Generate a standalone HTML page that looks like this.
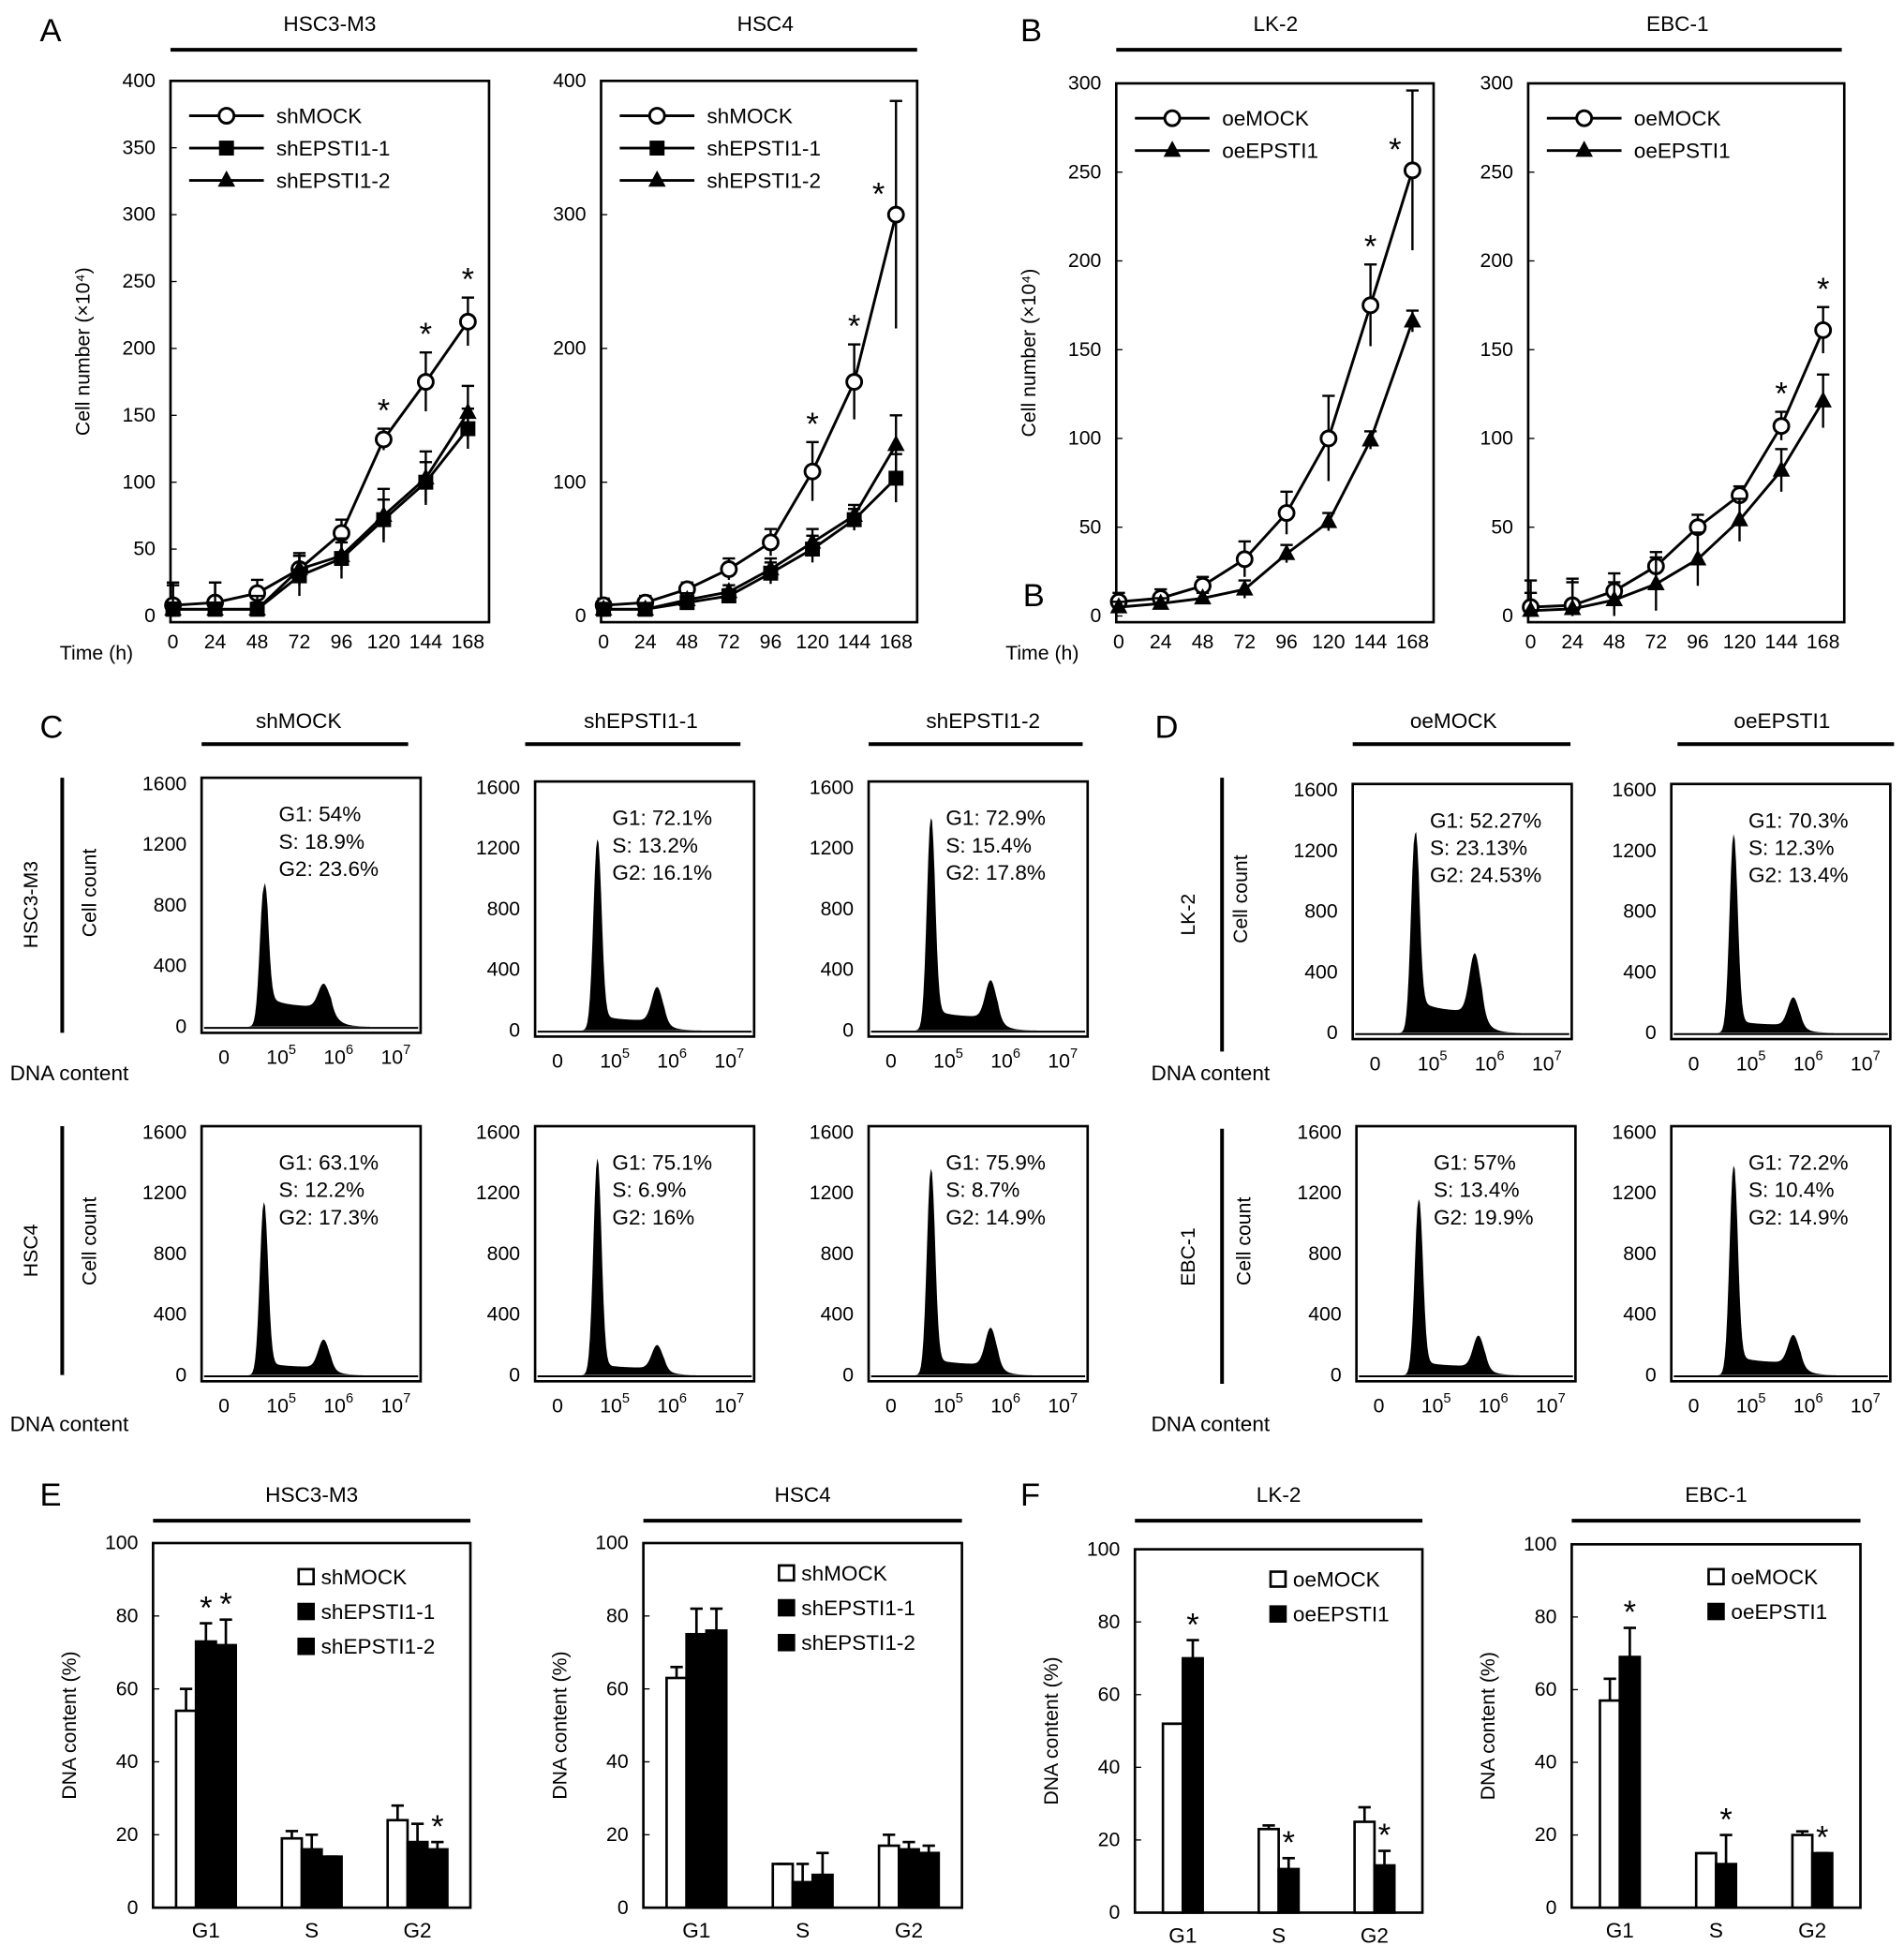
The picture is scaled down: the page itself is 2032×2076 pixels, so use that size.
<!DOCTYPE html>
<html><head><meta charset="utf-8"><style>
html,body{margin:0;padding:0;background:#fff}
svg{display:block;font-family:"Liberation Sans",Arial,sans-serif}
</style></head><body>
<svg id="fig" width="2032" height="2076" viewBox="0 0 1530 1563" preserveAspectRatio="none" xmlns="http://www.w3.org/2000/svg">
<rect width="1530" height="1563" fill="#fff"/>
<g font-size="26"><text x="32" y="33">A</text><text x="820" y="33">B</text><text x="32" y="593">C</text><text x="928" y="593">D</text><text x="32" y="1210">E</text><text x="820" y="1210">F</text><text x="822" y="487">B</text></g>
</svg>
<script>
const timeCats=[0,24,48,72,96,120,144,168];
const a1Mock=[8,10,17,35,62,132,175,220], a1MockErr=[15,15,10,12,10,8,22,18];
const a1Sh1=[5,5,5,30,43,72,100,140], a1Sh1Err=[20,20,10,15,15,15,15,15];
const a1Sh2=[5,5,5,35,45,75,103,152], a1Sh2Err=[5,5,5,10,10,20,20,20];
const a2Mock=[8,10,20,35,55,108,175,300], a2MockErr=[5,5,5,8,10,22,28,85];
const a2Sh1=[5,5,10,15,32,50,72,103], a2Sh1Err=[3,3,3,5,8,10,8,18];
const a2Sh2=[5,5,12,18,35,55,75,128], a2Sh2Err=[3,3,5,5,8,10,8,22];
const b1Mock=[8,10,17,32,58,100,175,251], b1MockErr=[5,5,5,10,12,24,23,45];
const b1Oe=[5,7,10,15,35,53,99,166], b1OeErr=[3,3,3,5,5,5,5,6];
const b2Mock=[5,6,14,28,50,68,107,161], b2MockErr=[15,15,10,8,7,5,8,13];
const b2Oe=[3,4,9,18,32,54,82,121], b2OeErr=[10,15,10,15,15,12,12,15];
const flowG1=[920,1260,1400,1310,1310,1140,1430,1360,1160,1380];
const flowS=[220,110,150,240,90,90,80,120,100,140];
const flowG2=[150,220,240,380,180,180,150,240,200,180];
const flowText=[["G1: 54%","S:  18.9%","G2: 23.6%"],["G1: 72.1%","S:  13.2%","G2: 16.1%"],["G1: 72.9%","S:  15.4%","G2: 17.8%"],["G1: 52.27%","S:  23.13%","G2: 24.53%"],["G1: 70.3%","S:  12.3%","G2: 13.4%"],["G1: 63.1%","S:  12.2%","G2: 17.3%"],["G1: 75.1%","S:  6.9%","G2: 16%"],["G1: 75.9%","S:  8.7%","G2: 14.9%"],["G1: 57%","S:  13.4%","G2: 19.9%"],["G1: 72.2%","S:  10.4%","G2: 14.9%"]];
const phaseCats=["G1","S","G2"];
const e1Mock=[54,19,24],e1MockErr=[6,2,4],e1Sh1=[73,16,18],e1Sh1Err=[5,4,5],e1Sh2=[72,14,16],e1Sh2Err=[7,0,2];
const e2Mock=[63,12,17],e2MockErr=[3,0,3],e2Sh1=[75,7,16],e2Sh1Err=[7,5,2],e2Sh2=[76,9,15],e2Sh2Err=[6,6,2];
const f1Mock=[52,23,25],f1MockErr=[0,1,4],f1Oe=[70,12,13],f1OeErr=[5,3,4];
const f2Mock=[57,15,20],f2MockErr=[6,0,1],f2Oe=[69,12,15],f2OeErr=[8,8,0];

const svg=document.getElementById('fig');const NS='http://www.w3.org/2000/svg';
function mk(tag,at,parent){const e=document.createElementNS(NS,tag);for(const k in at)e.setAttribute(k,at[k]);(parent||svg).appendChild(e);return e;}
function txt(x,y,s,size,anchor,parent){const t=mk('text',{x:x,y:y,'font-size':size||16,'text-anchor':anchor||'middle'},parent);t.textContent=s;return t;}
function hline(x1,x2,y,w){mk('line',{x1:x1,x2:x2,y1:y,y2:y,stroke:'#000','stroke-width':w||3});}
function vline(x,y1,y2,w){mk('line',{x1:x,x2:x,y1:y1,y2:y2,stroke:'#000','stroke-width':w||3});}
hline(137,737,40);txt(265,25,'HSC3-M3',17);txt(615,25,'HSC4',17);
hline(897,1480,40);txt(1025,25,'LK-2',17);txt(1348,25,'EBC-1',17);

function marker(g,kind,x,y){
 if(kind==='o')mk('circle',{cx:x,cy:y,r:6,fill:'#fff',stroke:'#000','stroke-width':2.2},g);
 else if(kind==='s')mk('rect',{x:x-6,y:y-6,width:12,height:12,fill:'#000'},g);
 else mk('polygon',{points:`${x},${y-8} ${x-7},${y+5} ${x+7},${y+5}`,fill:'#000'},g);
}
function lineChart(name,bx,by,bw,bh,ymax,ystep,series,legend,stars,showTime,ylab){
 const g=mk('g',{});
 
 
 const x0=bx+2,x1=bx+bw-17,y0=by+bh-5,y1=by;
 const X=t=>x0+(t/168)*(x1-x0), Y=v=>y0-(v/ymax)*(y0-y1);
 mk('rect',{x:bx,y:by,width:bw,height:bh,fill:'none',stroke:'#000','stroke-width':2},g);
 for(let v=0;v<=ymax;v+=ystep){txt(bx-12,Y(v)+5,String(v),16,'end',g);mk('line',{x1:bx,x2:bx+5,y1:Y(v),y2:Y(v),stroke:'#000'},g);}
 timeCats.forEach(t=>txt(X(t),by+bh+21,String(t),16,'middle',g));
 if(showTime)txt(bx-30,by+bh+30,'Time (h)',16,'end',g);
 if(ylab){const t=txt(0,0,'Cell number (×10⁴)',16,'middle',g);t.setAttribute('transform',`translate(${bx-65},${by+bh/2}) rotate(-90)`);}
 series.forEach(s=>{
  const gs=mk('g',{},g);
  
  
  mk('polyline',{points:s.v.map((v,i)=>X(timeCats[i])+','+Y(v)).join(' '),fill:'none',stroke:'#000','stroke-width':2.2},gs);
  s.v.forEach((v,i)=>{const x=X(timeCats[i]);mk('line',{x1:x,x2:x,y1:Y(v+s.e[i]),y2:Y(Math.max(0,v-s.e[i])),stroke:'#000','stroke-width':1.8},gs);
   mk('line',{x1:x-5,x2:x+5,y1:Y(v+s.e[i]),y2:Y(v+s.e[i]),stroke:'#000','stroke-width':1.8},gs);
   marker(gs,s.m,x,Y(v));});
 });
 stars.forEach(i=>{const s=series[0];let sy=Y(s.v[i]+s.e[i])-6,sx=X(timeCats[i]);if(sy<by+30){sy=Y(s.v[i])-8;sx-=14;}txt(sx,sy,'*',26,'middle',g);});
 legend.forEach((l,i)=>{const ly=by+28+i*26;const lg=mk('g',{},g);
  
  
  mk('line',{x1:bx+15,x2:bx+75,y1:ly,y2:ly,stroke:'#000','stroke-width':2.2},lg);marker(lg,l[1],bx+45,ly);txt(bx+85,ly+6,l[0],17,'start',lg);});
}
lineChart('chart-a-hsc3m3',137,65,256,435,400,50,[{name:'shMOCK',v:a1Mock,e:a1MockErr,m:'o'},{name:'shEPSTI1-1',v:a1Sh1,e:a1Sh1Err,m:'s'},{name:'shEPSTI1-2',v:a1Sh2,e:a1Sh2Err,m:'t'}],[['shMOCK','o'],['shEPSTI1-1','s'],['shEPSTI1-2','t']],[5,6,7],true,true);
lineChart('chart-a-hsc4',483,65,254,435,400,100,[{name:'shMOCK',v:a2Mock,e:a2MockErr,m:'o'},{name:'shEPSTI1-1',v:a2Sh1,e:a2Sh1Err,m:'s'},{name:'shEPSTI1-2',v:a2Sh2,e:a2Sh2Err,m:'t'}],[['shMOCK','o'],['shEPSTI1-1','s'],['shEPSTI1-2','t']],[5,6,7],false,false);
lineChart('chart-b-lk2',897,67,255,433,300,50,[{name:'oeMOCK',v:b1Mock,e:b1MockErr,m:'o'},{name:'oeEPSTI1',v:b1Oe,e:b1OeErr,m:'t'}],[['oeMOCK','o'],['oeEPSTI1','t']],[6,7],true,true);
lineChart('chart-b-ebc1',1228,67,254,433,300,50,[{name:'oeMOCK',v:b2Mock,e:b2MockErr,m:'o'},{name:'oeEPSTI1',v:b2Oe,e:b2OeErr,m:'t'}],[['oeMOCK','o'],['oeEPSTI1','t']],[6,7],false,false);

const flowBoxes=[[162,625],[430,628],[698,628],[1087,630],[1343,630],[162,905],[430,905],[698,905],[1090,905],[1343,905]];
hline(162,328,598);txt(240,585,'shMOCK',17);hline(422,595,598);txt(515,585,'shEPSTI1-1',17);hline(698,870,598);txt(790,585,'shEPSTI1-2',17);
hline(1087,1262,598);txt(1168,585,'oeMOCK',17);hline(1348,1522,598);txt(1432,585,'oeEPSTI1',17);
vline(50,625,830);vline(50,905,1105);vline(982,625,845);vline(982,907,1112);
[['HSC3-M3',30,727],['HSC4',30,1005],['LK-2',960,735],['EBC-1',960,1010]].forEach(a=>{const t=txt(0,0,a[0],16);t.setAttribute('transform',`translate(${a[1]},${a[2]}) rotate(-90)`);});
[[8,868],[8,1150],[925,868],[925,1150]].forEach(p=>txt(p[0],p[1],'DNA content',17,'start'));
flowBoxes.forEach((b,k)=>{
 const g=mk('g',{});
 
 
 const bw=176,bh=205,bx=b[0],by=b[1];const Y=v=>by+bh-5-(v/1600)*(bh-10);
 mk('rect',{x:bx,y:by,width:bw,height:bh,fill:'none',stroke:'#000','stroke-width':2},g);
 [0,400,800,1200,1600].forEach(v=>txt(bx-12,Y(v)+5,String(v),16,'end',g));
 [['0',18],['10',64],['10',110],['10',156]].forEach((l,i)=>{const t=txt(bx+l[1],by+bh+25,l[0],16,'middle',g);if(i){const s=document.createElementNS(NS,'tspan');s.setAttribute('dy','-8');s.setAttribute('font-size','11');s.textContent=String(i+4);t.appendChild(s);}});
 const cx=bx+50,c2=bx+98;let pts=[];
 for(let x=bx+30;x<=bx+135;x+=1){
  let v=flowG1[k]*Math.exp(-Math.pow((x-cx)/4.5,2));
  if(x>cx){const d=x-cx;let sv=flowS[k]*(0.6+0.4*Math.exp(-d/12));if(x>c2+6)sv*=Math.exp(-(x-c2-6)/6);v+=sv*Math.min(1,d/3);}
  v+=flowG2[k]*Math.exp(-Math.pow((x-c2)/6,2));pts.push(x+','+Y(v));}
 mk('polygon',{points:`${bx+30},${Y(0)} `+pts.join(' ')+` ${bx+135},${Y(0)}`,fill:'#000'},g);
 mk('line',{x1:bx+2,x2:bx+bw-2,y1:Y(0)+1,y2:Y(0)+1,stroke:'#000','stroke-width':1.5},g);
 flowText[k].forEach((s,i)=>{const t=txt(bx+62,by+35+i*22,s,17,'start',g);t.setAttribute('xml:space','preserve');});
 if(k===0||k===3||k===5||k===8){const t=txt(0,0,'Cell count',16);t.setAttribute('transform',`translate(${bx-85},${by+bh/2-10}) rotate(-90)`);g.appendChild(t);}
});

function barChart(name,bx,by,bw,bh,series,errs,fills,legend,stars,ylab,title,lx,ly){
 const g=mk('g',{});
 
 
 hline(bx,bx+bw,1222);txt(bx+bw/2,1207,title,17,'middle',g);
 const y0=by+bh,Y=v=>y0-(v/100)*bh;
 mk('rect',{x:bx,y:by,width:bw,height:bh,fill:'none',stroke:'#000','stroke-width':2},g);
 for(let v=0;v<=100;v+=20){txt(bx-12,Y(v)+5,String(v),16,'end',g);mk('line',{x1:bx,x2:bx+5,y1:Y(v),y2:Y(v),stroke:'#000'},g);}
 const gw=bw/3,n=series.length,w=16;
 phaseCats.forEach((c,i)=>{const cx=bx+gw*(i+0.5);txt(cx,y0+24,c,17,'middle',g);
  series.forEach((s,j)=>{const x=cx-(n*w)/2+j*w;const r=mk('rect',{x:x,y:Y(s[i]),width:w,height:y0-Y(s[i]),fill:fills[j],stroke:'#000','stroke-width':2},g);
   
   
   const e=errs[j][i];const xc=x+w/2;mk('line',{x1:xc,x2:xc,y1:Y(s[i]),y2:Y(s[i]+e),stroke:'#000','stroke-width':2},g);mk('line',{x1:xc-5,x2:xc+5,y1:Y(s[i]+e),y2:Y(s[i]+e),stroke:'#000','stroke-width':2},g);
   if(stars.some(p=>p[0]===i&&p[1]===j))txt(xc,Y(s[i]+e)-4,'*',26,'middle',g);});});
 legend.forEach((l,i)=>{const yy=ly+i*28;mk('rect',{x:lx,y:yy-12,width:12,height:12,fill:fills[i],stroke:'#000','stroke-width':2},g);txt(lx+18,yy,l,17,'start',g);});
 if(ylab){const t=txt(0,0,'DNA content (%)',16);t.setAttribute('transform',`translate(${bx-62},${by+bh/2}) rotate(-90)`);g.appendChild(t);}
}
barChart('bar-e-hsc3m3',123,1240,255,293,[e1Mock,e1Sh1,e1Sh2],[e1MockErr,e1Sh1Err,e1Sh2Err],['#fff','#000','#000'],['shMOCK','shEPSTI1-1','shEPSTI1-2'],[[0,1],[0,2],[2,2]],true,'HSC3-M3',240,1273);
barChart('bar-e-hsc4',517,1240,256,293,[e2Mock,e2Sh1,e2Sh2],[e2MockErr,e2Sh1Err,e2Sh2Err],['#fff','#000','#000'],['shMOCK','shEPSTI1-1','shEPSTI1-2'],[],true,'HSC4',626,1270);
barChart('bar-f-lk2',912,1245,231,292,[f1Mock,f1Oe],[f1MockErr,f1OeErr],['#fff','#000'],['oeMOCK','oeEPSTI1'],[[0,1],[1,1],[2,1]],true,'LK-2',1021,1275);
barChart('bar-f-ebc1',1263,1241,232,292,[f2Mock,f2Oe],[f2MockErr,f2OeErr],['#fff','#000'],['oeMOCK','oeEPSTI1'],[[0,1],[1,1],[2,1]],true,'EBC-1',1373,1273);
</script>
</body></html>
